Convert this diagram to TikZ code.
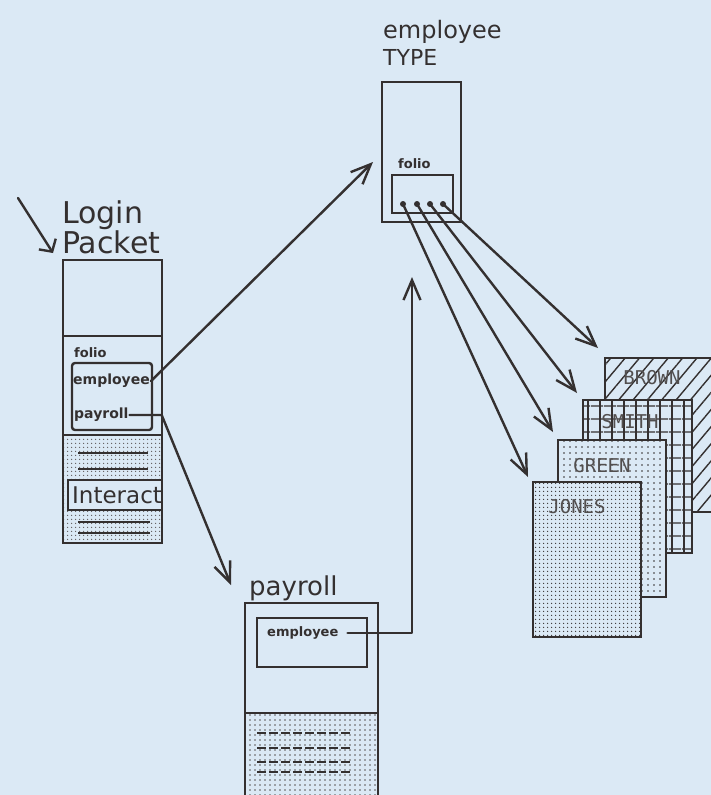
\documentclass[tikz,border=0pt]{standalone}
\usepackage{fontspec}
\setmainfont{DejaVu Sans}
\newfontfamily\stencilfont{DejaVu Sans Mono}
\usetikzlibrary{arrows.meta,patterns.meta,calc}

\definecolor{paper}{RGB}{219,233,245}
\definecolor{ink}{RGB}{52,48,48}

\begin{document}
\begin{tikzpicture}[x=1pt,y=-1pt,
  box/.style={draw=ink, line width=2.4pt, inner sep=0pt, outer sep=0pt, anchor=north west},
  title/.style={text=ink, inner sep=0pt, anchor=base west},
  tag/.style={text=ink, inner sep=1pt, anchor=west, font=\bfseries\fontsize{14}{14}\selectfont},
  ptr/.style={circle, fill=ink, inner sep=0pt, minimum size=6pt},
  link/.style={draw=ink, line width=2.4pt, line cap=round, line join=round,
               -{Straight Barb[length=20pt,width=17pt,line width=2.4pt]}},
  pagebox/.style={box, preaction={fill=paper}, pattern color=ink},
  pagename/.style={text=ink!85, inner sep=0pt, font=\stencilfont\fontsize{19}{19}\selectfont},
  rule/.style={draw=ink, line width=2.8pt},
  dashrule/.style={draw=ink, line width=1.8pt, dash pattern=on 9pt off 3pt}
]
\useasboundingbox (0,0) rectangle (711,795);
\fill[paper] (0,0) rectangle (711,795);

% ---------------- Login Packet ----------------
\node[title, font=\fontsize{30}{30}\selectfont] (loginLbl) at (62,223) {Login};
\node[title, font=\fontsize{30}{30}\selectfont] (packetLbl) at (62,253) {Packet};
\node[box, minimum width=99pt, minimum height=76pt] (pkTop) at (63,260) {};
\node[box, minimum width=99pt, minimum height=99pt] (pkMid) at (63,336) {};
\node[box, minimum width=99pt, minimum height=108pt, preaction={fill=paper},
      pattern={Dots[distance=4pt,radius=0.8pt]}, pattern color=ink!80] (pkLow) at (63,435) {};
\node[tag, font=\bfseries\fontsize{13}{13}\selectfont] (pkFolioLbl) at (73,353) {folio};
\node[box, rounded corners=3pt, minimum width=80pt, minimum height=67pt] (pkFolio) at (72,363) {};
\node[tag] (pkEmp) at (72,381) {employee};
\node[tag] (pkPay) at (73,415) {payroll};
\draw[rule] (78,453) -- (148,453);
\draw[rule] (78,469) -- (148,469);
\draw[rule] (78,522) -- (150,522);
\draw[rule] (78,533) -- (150,533);
\begin{scope}
  \clip (63,435) rectangle (161,543);
  \node[box, fill=paper, minimum width=100pt, minimum height=30pt] (interact) at (68,480) {};
  \node[title, font=\fontsize{23}{23}\selectfont] (interactTxt) at (72,503) {Interact};
\end{scope}
\draw[draw=ink, line width=2.4pt] (pkLow.north west) rectangle (pkLow.south east);

% ---------------- employee TYPE ----------------
\node[title, font=\fontsize{24}{24}\selectfont] (typeLbl1) at (383,38) {employee};
\node[title, font=\fontsize{22}{22}\selectfont] (typeLbl2) at (383,65) {TYPE};
\node[box, minimum width=79pt, minimum height=140pt] (typeBox) at (382,82) {};
\node[tag, font=\bfseries\fontsize{13}{13}\selectfont] (typeFolioLbl) at (397,164) {folio};
\node[box, minimum width=61pt, minimum height=38pt] (typeFolio) at (392,175) {};
\foreach \i/\x in {1/403,2/417,3/430,4/443}
  \node[ptr] (p\i) at (\x,204) {};

% ---------------- payroll ----------------
\node[title, font=\fontsize{26}{26}\selectfont] (payLbl) at (249,595) {payroll};
\node[box, minimum width=133pt, minimum height=110pt] (payBox) at (245,603) {};
\node[box, minimum width=133pt, minimum height=100pt, preaction={fill=paper},
      pattern={Dots[distance=5pt,radius=0.8pt]}, pattern color=ink!80] (payLow) at (245,713) {};
\node[box, minimum width=110pt, minimum height=49pt] (payInner) at (257,618) {};
\node[tag, font=\bfseries\fontsize{13}{13}\selectfont] (payEmp) at (266,633) {employee};
\foreach \y in {733,748,762,772}
  \draw[dashrule] (257,\y) -- (350,\y);

% ---------------- pages ----------------
\node[pagebox, minimum width=120pt, minimum height=154pt,
      pattern={Lines[angle=50,distance=11pt,line width=1.4pt]}] (brown) at (605,358) {};
\node[pagename] at (652,378) {BROWN};

\node[pagebox, minimum width=109pt, minimum height=153pt,
      pattern={Lines[angle=0,distance=13pt,line width=1.4pt]}] (smith) at (583,400) {};
\fill[pattern={Lines[angle=90,distance=12pt,line width=1.4pt]}, pattern color=ink]
  (smith.north west) rectangle (smith.south east);
\draw[draw=ink, line width=2.4pt] (smith.north west) rectangle (smith.south east);
\node[pagename] at (630,422) {SMITH};

\node[pagebox, minimum width=108pt, minimum height=157pt,
      pattern={Dots[distance=6pt,radius=0.9pt]}] (green) at (558,440) {};
\node[pagename] at (602,466) {GREEN};

\node[pagebox, minimum width=108pt, minimum height=155pt,
      pattern={Dots[distance=4pt,radius=0.8pt]}] (jones) at (533,482) {};
\node[pagename] at (577,507) {JONES};

% ---------------- connectors ----------------
\coordinate (entry) at (18,198);
\draw[link, -{Straight Barb[length=9pt,width=20pt,line width=2.4pt]}]
  (entry) -- ($(pkTop.north west)+(-10,-7)$);
\draw[link] (pkEmp.east) -- ($(typeBox.north west)+(-9,80)$);
\draw[link] (pkPay.east) -- ++(32,0) -- ($(payBox.north west)+(-14,-18)$);
\coordinate (typeIn) at (412,277);
\draw[link] ([xshift=8pt]payEmp.east) -| (typeIn);
\draw[link] (p1.center) -- ($(jones.north west)+(-5,-5)$);
\draw[link] (p2.center) -- ($(green.north west)+(-5,-8)$);
\draw[link] (p3.center) -- ($(smith.north west)+(-6,-7)$);
\draw[link] (p4.center) -- ($(brown.north west)+(-7,-10)$);
\end{tikzpicture}
\end{document}
